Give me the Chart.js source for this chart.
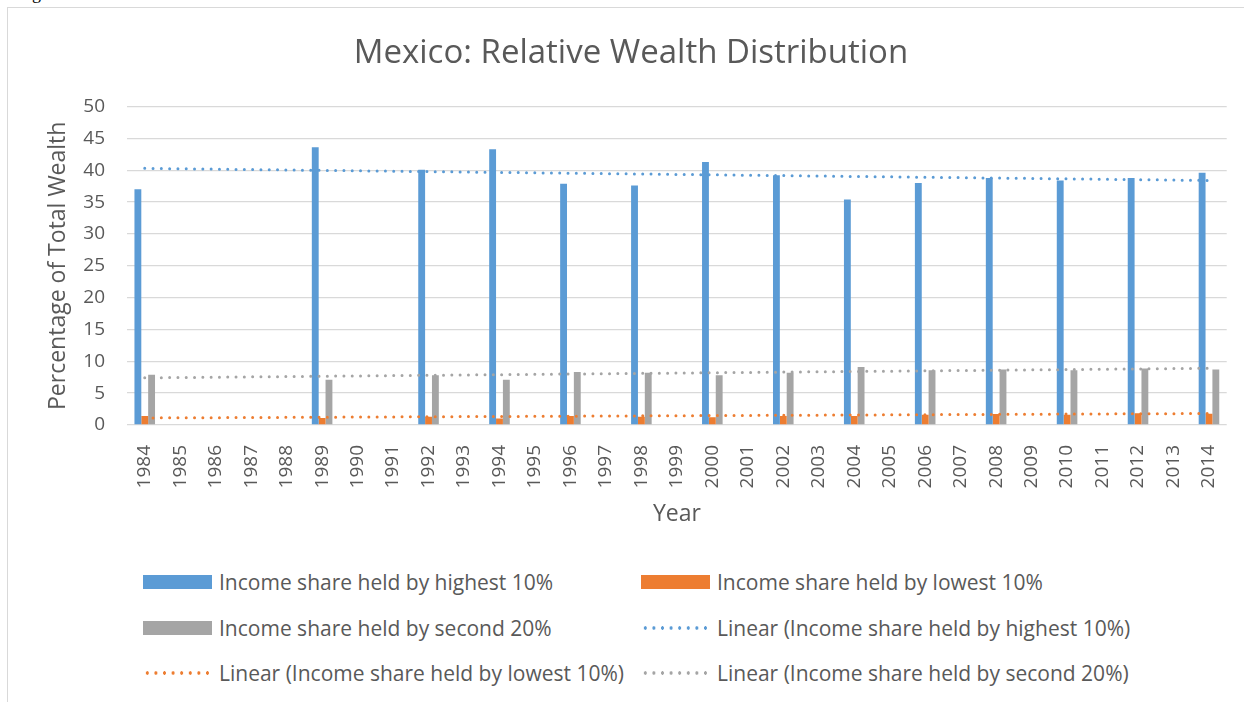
<!DOCTYPE html>
<html lang="en">
<head>
<meta charset="UTF-8">
<title>Mexico: Relative Wealth Distribution</title>
<script src="https://cdn.jsdelivr.net/npm/chart.js"></script>
<style>
    body {
        margin: 0;
        background: #fff;
        font-family: 'Open Sans', sans-serif;
        width: 1244px;
        height: 702px;
        overflow: hidden;
        position: relative;
    }
    .caption {
        position: absolute;
        left: 17px;
        top: -17px;
        font-family: 'Liberation Serif', serif;
        font-size: 18px;
        color: #000;
    }
    .frame {
        position: absolute;
        left: 7px;
        top: 7px;
        width: 1260px;
        height: 720px;
        border: 1px solid #d9d9d9;
        box-sizing: border-box;
    }
    .chart-box {
        position: absolute;
        left: 0;
        top: 0;
        width: 1244px;
        height: 542px;
    }
    .item {
        position: absolute;
        height: 28px;
        display: flex;
        align-items: center;
        font-size: 21px;
        color: #595959;
        white-space: nowrap;
    }
    .swatch {
        width: 69px;
        height: 14px;
        margin-right: 7px;
    }
</style>
</head>
<body>
<div class="caption">Figure 6</div>
<div class="frame"></div>
<div class="chart-box"><canvas id="chart"></canvas></div>
<div id="legend"></div>

<script>
    const years = ['1984', '1985', '1986', '1987', '1988', '1989', '1990', '1991', '1992', '1993',
                   '1994', '1995', '1996', '1997', '1998', '1999', '2000', '2001', '2002', '2003',
                   '2004', '2005', '2006', '2007', '2008', '2009', '2010', '2011', '2012', '2013', '2014'];
    const surveyYears = ['1984', '1989', '1992', '1994', '1996', '1998', '2000',
                         '2002', '2004', '2006', '2008', '2010', '2012', '2014'];
    const highest10 = [37.0, 43.6, 40.1, 43.3, 37.9, 37.6, 41.3, 39.2, 35.4, 38.0, 38.8, 38.4, 38.8, 39.6];
    const lowest10  = [1.4, 1.1, 1.3, 1.0, 1.4, 1.3, 1.2, 1.4, 1.4, 1.6, 1.7, 1.6, 1.85, 1.75];
    const second20  = [7.9, 7.1, 7.8, 7.1, 8.3, 8.2, 7.8, 8.2, 9.1, 8.6, 8.7, 8.6, 8.85, 8.7];
    // trendline ends (1984, 2014)
    const highestTrend = [40.3, 38.4];
    const lowestTrend  = [1.1, 1.8];
    const secondTrend  = [7.4, 8.9];
    const yTicks = [0, 5, 10, 15, 20, 25, 30, 35, 40, 45, 50];

    const BLUE = '#5b9bd5', ORANGE = '#ed7d31', GRAY = '#a5a5a5', TEXT = '#595959';

    function byYear(values) {
        return years.map(y => {
            const i = surveyYears.indexOf(y);
            return i < 0 ? null : values[i];
        });
    }
    function trend(ends) {
        return years.map((y, i) => i === 0 ? ends[0] : (i === years.length - 1 ? ends[1] : null));
    }

    function bar(label, values, color) {
        return {
            type: 'bar', label: label, data: byYear(values),
            backgroundColor: color, borderWidth: 0,
            categoryPercentage: 0.58, barPercentage: 1.0, order: 2
        };
    }
    function trendLine(label, ends, color) {
        return {
            type: 'line', label: label, data: trend(ends),
            borderColor: color, borderWidth: 3, borderDash: [0, 8.3], borderCapStyle: 'round',
            pointRadius: 0, spanGaps: true, fill: false, order: 1
        };
    }

    const datasets = [
        bar('Income share held by highest 10%', highest10, BLUE),
        bar('Income share held by lowest 10%', lowest10, ORANGE),
        bar('Income share held by second 20%', second20, GRAY),
        trendLine('Linear (Income share held by highest 10%)', highestTrend, BLUE),
        trendLine('Linear (Income share held by lowest 10%)', lowestTrend, ORANGE),
        trendLine('Linear (Income share held by second 20%)', secondTrend, GRAY)
    ];

    Chart.defaults.font.family = "'Open Sans', sans-serif";
    Chart.defaults.color = TEXT;

    new Chart(document.getElementById('chart'), {
        type: 'bar',
        data: { labels: years, datasets: datasets },
        options: {
            responsive: true,
            maintainAspectRatio: false,
            animation: false,
            layout: { padding: { left: 32, right: 14, bottom: 10 } },
            plugins: {
                legend: { display: false },
                tooltip: { enabled: false },
                title: {
                    display: true,
                    text: 'Mexico: Relative Wealth Distribution',
                    font: { size: 33, weight: 'normal' },
                    color: TEXT,
                    padding: { top: 34, bottom: 33 }
                }
            },
            scales: {
                x: {
                    grid: { display: false },
                    border: { display: false },
                    ticks: { font: { size: 19 }, minRotation: 90, maxRotation: 90, autoSkip: false, padding: 12 },
                    title: { display: true, text: 'Year', font: { size: 23 }, padding: { top: 0 } }
                },
                y: {
                    min: 0, max: 50,
                    afterBuildTicks: axis => { axis.ticks = yTicks.map(v => ({ value: v })); },
                    afterFit: axis => { axis.width = 95; },
                    grid: { color: '#d9d9d9', lineWidth: 1.3, drawTicks: false },
                    border: { display: false },
                    ticks: { font: { size: 19 }, padding: 22 },
                    title: { display: true, text: 'Percentage of Total Wealth', font: { size: 23 }, padding: { top: 13 } }
                }
            }
        }
    });

    // legend laid out in two columns like the original
    const legendCols = [143, 641];
    const legendRows = [582, 628, 673];
    const legend = document.getElementById('legend');
    datasets.forEach((ds, i) => {
        const item = document.createElement('div');
        item.className = 'item';
        item.style.left = legendCols[i % 2] + 'px';
        item.style.top = (legendRows[Math.floor(i / 2)] - 14) + 'px';
        const sw = document.createElement('span');
        sw.className = 'swatch';
        if (ds.type === 'bar') {
            sw.style.background = ds.backgroundColor;
        } else {
            sw.style.background = 'radial-gradient(circle, ' + ds.borderColor + ' 1.5px, transparent 1.9px) 0 center / 8.6px 14px repeat-x';
        }
        const txt = document.createElement('span');
        txt.textContent = ds.label;
        item.appendChild(sw);
        item.appendChild(txt);
        legend.appendChild(item);
    });
</script>
</body>
</html>
